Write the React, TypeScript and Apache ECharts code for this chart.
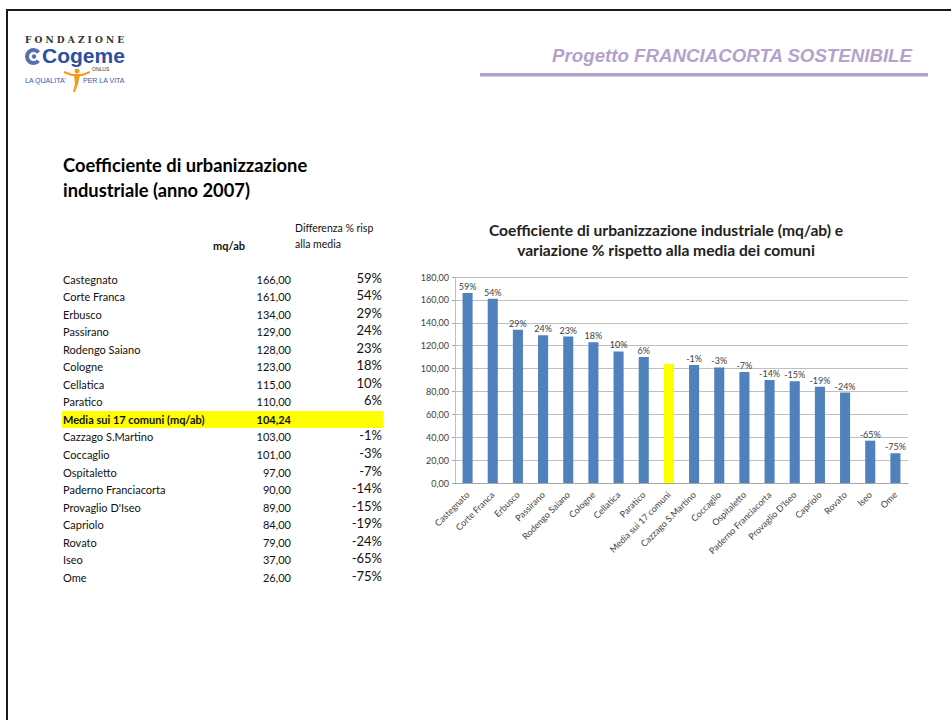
import React, { useEffect, useRef } from "react";
import * as echarts from "echarts";

const categories = [
  "Castegnato", "Corte Franca", "Erbusco", "Passirano", "Rodengo Saiano", "Cologne",
  "Cellatica", "Paratico", "Media sui 17 comuni", "Cazzago S.Martino", "Coccaglio",
  "Ospitaletto", "Paderno Franciacorta", "Provaglio D'Iseo", "Capriolo", "Rovato", "Iseo", "Ome",
];
const tableNames = [
  "Castegnato", "Corte Franca", "Erbusco", "Passirano", "Rodengo Saiano", "Cologne",
  "Cellatica", "Paratico", "Media sui 17 comuni (mq/ab)", "Cazzago S.Martino", "Coccaglio",
  "Ospitaletto", "Paderno Franciacorta", "Provaglio D'Iseo", "Capriolo", "Rovato", "Iseo", "Ome",
];
const values = [166, 161, 134, 129, 128, 123, 115, 110, 104.24, 103, 101, 97, 90, 89, 84, 79, 37, 26];
const diffs = ["59%", "54%", "29%", "24%", "23%", "18%", "10%", "6%", "", "-1%", "-3%", "-7%", "-14%", "-15%", "-19%", "-24%", "-65%", "-75%"];
const mediaIndex = 8;
const yTicks = { min: 0, max: 180, interval: 20 };

const fmt = (v: number) => v.toFixed(2).replace(".", ",");

const FONT = "Lato";
const BLUE = "#4F81BD";
const LAV = "#B4A2CC";

export default function App() {
  const ref = useRef<HTMLDivElement>(null);
  useEffect(() => {
    if (!ref.current) return;
    const chart = echarts.init(ref.current, null, { renderer: "svg" });

    const rowY0 = 279;
    const rowH = 17.55;
    const table: any[] = [];
    tableNames.forEach((n, i) => {
      const y = rowY0 + i * rowH;
      const bold = i === mediaIndex;
      if (bold) {
        table.push({ type: "rect", shape: { x: 62, y: y - 8.5, width: 321, height: 17 }, style: { fill: "#FFFF00" } });
      }
      table.push({
        type: "text", x: 63, y,
        style: { text: n, font: `${bold ? "bold " : ""}11px ${FONT}`, fill: "#111", textAlign: "left", textVerticalAlign: "middle" },
      });
      table.push({
        type: "text", x: 291, y,
        style: { text: fmt(values[i]), font: `${bold ? "bold " : ""}11px ${FONT}`, fill: "#111", textAlign: "right", textVerticalAlign: "middle" },
      });
      if (diffs[i]) {
        table.push({
          type: "text", x: 382, y: y - 1.5,
          style: { text: diffs[i], font: `13px ${FONT}`, fill: "#111", textAlign: "right", textVerticalAlign: "middle" },
        });
      }
    });

    const graphic: any[] = [
      // frame
      { type: "rect", shape: { x: 6, y: 9, width: 2, height: 720 }, style: { fill: "#1a1a1a" } },
      { type: "rect", shape: { x: 6, y: 9, width: 945, height: 2 }, style: { fill: "#1a1a1a" } },
      // logo
      { type: "text", x: 25, y: 40, style: { text: "F O N D A Z I O N E", font: "bold 9px 'DejaVu Serif'", fill: "#333", textVerticalAlign: "middle" } },
      { type: "arc", shape: { cx: 33.5, cy: 56.5, r: 6.5, startAngle: 0.7, endAngle: 5.6 }, style: { stroke: "#5b6fae", lineWidth: 4, fill: "none" } },
      { type: "circle", shape: { cx: 34, cy: 56.5, r: 2.2 }, style: { fill: "#5b6fae" } },
      { type: "text", x: 42, y: 55, style: { text: "Cogeme", font: "bold 21px 'Liberation Sans'", fill: "#2b4fa3", textVerticalAlign: "middle" } },
      { type: "text", x: 92, y: 68.5, style: { text: "ONLUS", font: "5px 'Liberation Sans'", fill: "#333", textVerticalAlign: "middle" } },
      { type: "text", x: 25, y: 80, style: { text: "LA QUALITA'", font: "7px 'Liberation Sans'", fill: "#3a55a5", textVerticalAlign: "middle" } },
      { type: "text", x: 83, y: 80, style: { text: "PER LA VITA", font: "7px 'Liberation Sans'", fill: "#3a55a5", textVerticalAlign: "middle" } },
      { type: "circle", shape: { cx: 77, cy: 71, r: 2.5 }, style: { fill: "#F39A1E" } },
      { type: "polyline", shape: { points: [[64, 72], [72, 75], [82, 75], [90, 72]] }, style: { stroke: "#F39A1E", lineWidth: 2, fill: "none" } },
      { type: "polygon", shape: { points: [[74, 75], [80, 75], [78, 84], [75, 92], [73, 92], [75, 84]] }, style: { fill: "#F39A1E" } },
      // header
      { type: "text", x: 912, y: 55, style: { text: "Progetto FRANCIACORTA SOSTENIBILE", font: "italic bold 18.7px 'Liberation Sans'", fill: LAV, textAlign: "right", textVerticalAlign: "middle" } },
      { type: "rect", shape: { x: 480, y: 73, width: 448, height: 3.5 }, style: { fill: LAV } },
      // left title
      { type: "text", x: 63, y: 165, style: { text: "Coefficiente di urbanizzazione", font: `bold 18.3px ${FONT}`, fill: "#000", textVerticalAlign: "middle" } },
      { type: "text", x: 63, y: 190, style: { text: "industriale (anno 2007)", font: `bold 18.3px ${FONT}`, fill: "#000", textVerticalAlign: "middle" } },
      // table headers
      { type: "text", x: 229, y: 245, style: { text: "mq/ab", font: `bold 11px ${FONT}`, fill: "#111", textAlign: "center", textVerticalAlign: "middle" } },
      { type: "text", x: 295, y: 228, style: { text: "Differenza % risp", font: `10.5px ${FONT}`, fill: "#111", textVerticalAlign: "middle" } },
      { type: "text", x: 295, y: 244, style: { text: "alla media", font: `10.5px ${FONT}`, fill: "#111", textVerticalAlign: "middle" } },
      ...table,
      // chart title
      { type: "text", x: 666, y: 230, style: { text: "Coefficiente di urbanizzazione industriale (mq/ab) e", font: `bold 15.6px ${FONT}`, fill: "#222", textAlign: "center", textVerticalAlign: "middle" } },
      { type: "text", x: 666, y: 250, style: { text: "variazione % rispetto alla media dei comuni", font: `bold 15.6px ${FONT}`, fill: "#222", textAlign: "center", textVerticalAlign: "middle" } },
    ];

    chart.setOption({
      animation: false,
      backgroundColor: "#fff",
      textStyle: { fontFamily: FONT },
      graphic,
      grid: { left: 455, right: 43, top: 277, bottom: 237 },
      xAxis: {
        type: "category",
        data: categories,
        axisLine: { lineStyle: { color: "#a6a6a6" } },
        axisTick: { show: false },
        axisLabel: { rotate: 45, interval: 0, fontSize: 9, color: "#404040", margin: 10, fontFamily: FONT },
      },
      yAxis: {
        type: "value",
        min: yTicks.min,
        max: yTicks.max,
        interval: yTicks.interval,
        axisLine: { show: true, lineStyle: { color: "#bfbfbf" } },
        axisTick: { show: true, length: 3, lineStyle: { color: "#a6a6a6" } },
        splitLine: { lineStyle: { color: "#bfbfbf" } },
        axisLabel: { fontSize: 9, color: "#404040", margin: 6, fontFamily: FONT, formatter: (v: number) => fmt(v) },
      },
      series: [
        {
          type: "bar",
          barWidth: "40%",
          data: values.map((v, i) => ({
            value: v,
            itemStyle: { color: i === mediaIndex ? "#FFFF00" : BLUE },
          })),
          label: {
            show: true,
            position: "top",
            distance: 2,
            fontSize: 9,
            color: "#404040",
            fontFamily: FONT,
            formatter: (p: any) => diffs[p.dataIndex],
          },
        },
      ],
    });
    return () => chart.dispose();
  }, []);
  return (
    <div
      ref={ref}
      style={{ position: "absolute", left: 0, top: 0, width: 951, height: 720, background: "#fff" }}
    />
  );
}
